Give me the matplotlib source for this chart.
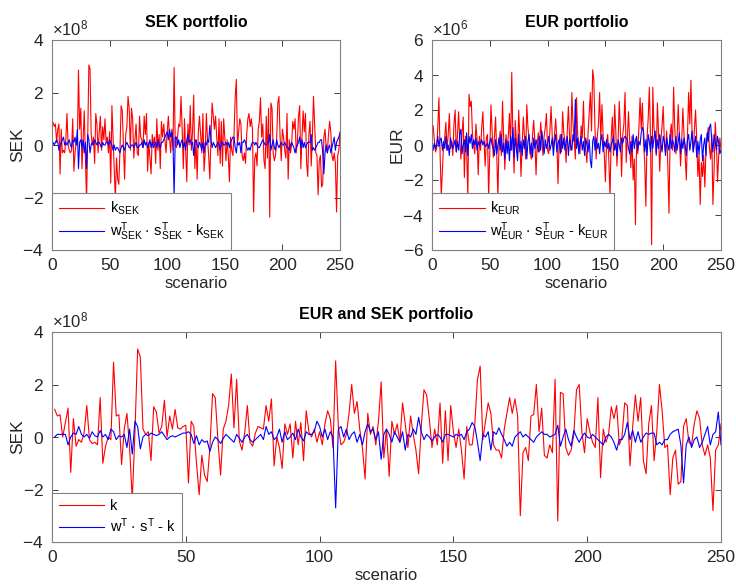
import numpy as np
import matplotlib
matplotlib.use("Agg")
import matplotlib.pyplot as plt
from matplotlib.ticker import ScalarFormatter

# k and residual per scenario, SEK portfolio (x 1e8 SEK)
sek_k = [
    0.85, 0.7, 0.8, 0.1, 0.6, 0.8, -1.1, 0.6, -0.3, -0.2,
    -0.3, 0.2, 1.2, 0.0, -0.2, -0.3, -0.2, 1.0, -1.0, -0.3,
    0.1, 0.0, 2.85, 0.6, 1.4, -0.9, 0.2, 1.3, -0.5, -2.1,
    0.3, 3.05, 2.9, 0.4, 0.0, 0.3, -0.7, 1.2, 0.8, -0.3,
    0.5, 1.1, -0.2, 0.7, 0.2, 1.0, 0.1, 0.3, -0.3, 0.5,
    -1.45, 1.5, 0.3, -0.9, -2.1, -0.5, -1.3, -1.5, -0.2, 1.5,
    1.3, 0.0, -1.3, 0.4, 0.7, 1.85, 1.4, -0.2, 1.4, 1.0,
    -0.5, 0.2, 0.8, -0.3, -0.4, 1.1, 0.3, 0.2, -0.1, 1.1,
    0.4, 1.2, -1.0, 0.1, -0.5, -1.1, 0.4, 0.0, 0.3, -0.7,
    1.0, -0.2, 0.4, -0.9, 0.9, 0.3, 0.8, 0.2, -0.3, 0.5,
    1.1, 0.3, -0.3, 0.6, -0.2, 2.95, 0.0, -0.1, 0.3, 0.8,
    0.7, 1.85, 0.6, -0.9, 1.0, -0.2, -1.4, 0.8, 0.0, 1.5,
    -0.2, 0.5, 1.9, -0.9, 0.2, -1.3, 0.5, 1.1, 0.4, -0.3,
    1.2, -1.0, -0.3, 1.2, 0.2, -0.4, -1.3, 0.3, 1.6, 1.1,
    0.6, 1.1, 0.3, -0.4, 1.0, -0.7, 0.9, -0.8, 1.0, 0.3,
    -0.6, 0.2, -0.4, -1.4, 0.3, -0.2, -0.4, 0.4, 1.8, 2.5,
    0.0, 0.5, 1.0, 0.8, -0.4, -0.6, -0.3, -0.7, 0.4, 1.0,
    1.2, 0.7, 1.0, 0.6, -2.55, -0.5, -0.3, -0.8, 0.6, 0.9,
    1.8, 0.3, 0.8, -0.6, -0.9, 1.1, -0.5, 1.4, -2.75, 1.6,
    1.4, -0.3, -0.6, -0.4, 0.2, 1.6, 1.85, 0.3, -0.6, 0.6,
    0.3, -0.2, -0.5, 1.2, -1.3, 0.2, -0.3, 0.0, 0.9, 0.6,
    1.0, -0.3, 0.1, 1.1, 1.5, -0.9, 0.3, 1.3, 0.5, 1.2,
    -0.7, -1.2, 0.4, 0.9, -0.8, 0.3, 1.85, 0.8, -0.3, -0.4,
    -1.9, -0.6, -0.4, -1.6, -1.5, 0.3, 0.6, -0.1, -0.3, 0.4,
    0.9, 0.5, -0.4, -0.6, -0.3, -0.7, -2.55, -0.4, -0.2, 0.5,
]
sek_resid = [
    0.1, 0.0, 0.1, 0.2, 0.1, -0.2, 0.0, 0.1, 0.2, 0.3,
    0.0, 0.1, 0.0, 0.1, 0.2, 0.0, -0.1, 0.2, 0.1, 0.3,
    0.0, 0.6, -0.9, 0.1, 0.2, -0.1, 0.2, -0.3, 0.1, -0.9,
    0.4, 0.2, -0.3, 0.0, 0.1, 0.0, 0.2, 0.1, 0.0, 0.1,
    0.1, 0.0, -0.1, 0.1, 0.0, 0.0, 0.1, 0.1, 0.0, 0.2,
    0.1, 0.0, -0.2, 0.0, -0.2, -0.1, -0.1, -0.2, -0.3, -0.1,
    0.0, -0.1, -0.2, 0.0, 0.1, 0.0, -0.1, -0.1, 0.0, 0.0,
    -0.1, 0.0, 0.1, -0.1, -0.1, 0.0, 0.0, 0.1, -0.1, 0.2,
    0.0, 0.1, -0.1, 0.0, 0.2, -0.1, 0.1, -0.1, 0.0, 0.1,
    -0.1, 0.2, 0.0, -0.1, 0.1, 0.1, 0.2, 0.3, 0.4, 0.5,
    0.2, 0.6, 0.3, 0.5, 0.2, -1.95, 0.3, 0.3, 0.0, 0.2,
    -0.1, 0.1, 0.2, -0.1, 0.1, -0.2, 0.2, 0.4, 0.1, 0.2,
    0.0, 0.1, -0.4, 0.1, 0.2, 0.0, -0.1, 0.1, 0.0, -0.2,
    0.1, -0.3, 0.1, 0.0, 0.2, 0.1, 0.75, 0.2, -0.1, 0.1,
    0.0, -0.1, 0.0, 0.1, 0.0, -0.2, 0.1, 0.1, 0.0, 0.0,
    0.1, 0.0, 0.1, -0.1, 0.1, 0.2, 0.3, 0.3, -0.1, -0.3,
    0.1, 0.0, 0.1, -0.3, 0.1, 0.1, 0.2, 0.1, -0.1, -0.2,
    -0.1, -0.2, 0.0, 0.1, 0.1, 0.0, 0.1, 0.0, -0.1, -0.1,
    0.0, 0.1, 0.2, 0.1, 0.0, 0.0, 0.1, 0.1, 0.4, -0.2,
    0.0, 0.2, -0.1, -0.2, 0.2, 0.0, -0.1, 0.0, 0.1, 0.0,
    0.0, 0.1, 0.0, -0.1, -0.1, -0.2, 0.0, 0.1, 0.0, -0.1,
    -0.3, -0.1, 0.0, 0.1, 0.3, -0.1, 0.2, -0.1, 0.1, -0.1,
    0.0, 0.1, 0.1, 0.1, 0.4, -0.2, -0.1, -0.2, -0.1, 0.0,
    0.1, 0.1, 0.2, 0.2, -0.3, -1.1, -0.3, 0.0, -0.3, -0.1,
    0.0, -0.3, -0.1, 0.1, 0.3, -0.2, 0.1, 0.2, 0.3, 0.45,
]

# EUR portfolio (x 1e6 EUR)
eur_k = [
    1.1, 0.3, -0.4, -0.2, 1.0, 2.7, -0.5, -2.9, -1.4, 0.0,
    0.4, 1.3, -0.3, 0.6, 1.8, -0.2, 0.2, -0.6, 1.2, 2.0,
    -0.4, 0.5, 1.9, 0.3, -0.8, 0.7, 1.6, -1.85, 0.5, -0.3,
    -3.0, 2.9, 2.2, 2.5, 0.6, 0.0, -0.5, 1.2, 0.3, -1.7,
    0.5, -0.3, 1.0, 1.9, 0.2, -1.2, 0.4, 0.6, -3.0, -0.4,
    2.3, 0.8, -0.7, 0.4, 1.6, -0.5, -3.0, 0.2, 0.8, -0.6,
    2.5, 0.4, -1.4, 0.6, -0.2, 0.5, 1.8, -0.3, 4.15, 0.3,
    -1.6, 1.4, 0.2, -0.6, 2.0, 0.4, -1.8, 0.1, 1.6, 0.5,
    -0.8, 2.3, 1.0, 0.3, -0.5, -0.8, 0.6, 1.4, 0.2, -1.7,
    0.1, 0.7, -0.4, 1.3, 0.4, -0.6, 0.5, 1.0, 1.8, -0.3,
    -0.5, 0.8, 2.2, 0.5, -0.2, 0.6, 1.5, 0.3, -2.2, 0.2,
    0.6, -0.4, 1.9, 0.7, 0.2, -1.0, 0.8, 2.2, 0.5, -0.3,
    3.0, 1.2, 0.3, -0.8, 2.7, 0.6, 0.0, -0.5, 1.1, 0.4,
    2.5, 0.2, -0.3, -1.0, 0.7, 1.8, 3.0, 0.8, 4.3, 3.7,
    0.9, -0.8, 0.5, 1.2, 3.0, 0.3, 2.3, 0.6, -0.5, -2.1,
    0.1, 0.6, -0.9, -3.0, 0.4, 1.6, -0.6, 2.3, 0.8, -1.2,
    0.3, 2.5, 0.7, -1.8, 0.6, 1.2, 3.0, -1.0, 0.4, 1.9,
    0.2, -1.3, 0.5, -2.0, -0.8, -4.55, 0.3, -0.5, 1.0, 2.7,
    0.9, 2.4, 0.2, -1.0, -3.5, 0.4, 1.5, 3.3, 0.5, -5.7,
    3.3, 1.0, 0.5, -0.6, 2.4, 0.6, -1.5, 0.3, 1.1, 2.2,
    0.2, -0.4, 0.8, -1.2, -3.9, 0.6, 1.2, -0.3, 3.3, 1.0,
    -0.5, 0.4, 2.3, 0.5, -1.2, 0.2, 2.1, 0.6, -0.6, -2.0,
    0.4, 3.0, 1.2, 3.7, 0.5, -0.4, 0.9, 2.0, 0.3, -1.8,
    -0.5, -3.4, -1.0, -1.8, -0.6, -2.4, -0.3, 0.5, 1.0, -0.2,
    -0.8, 0.6, -3.4, -1.5, 1.3, 0.2, -2.1, -0.6, 0.4, -0.3,
]
eur_resid = [
    -0.3, 0.1, -0.2, 0.0, 0.5, -0.1, 0.3, 0.4, -0.3, 0.2,
    -0.2, 0.5, -0.3, 0.0, -0.6, 0.4, 0.1, -0.2, 0.0, 0.3,
    -0.4, 0.2, -0.3, 0.6, 0.9, -0.5, 0.0, 0.3, -0.4, 0.7,
    -0.6, 0.5, 0.1, 0.6, -0.2, 0.3, 0.0, 0.4, -0.3, 0.2,
    0.0, 0.1, 0.3, 0.0, 0.2, -0.1, 0.0, 0.1, -0.2, 0.2,
    0.4, 0.0, -0.2, -0.6, 0.3, -0.5, 0.0, 0.4, -0.3, 0.6,
    -0.4, 0.1, -0.8, 0.3, -0.5, 0.2, -0.9, 0.5, -0.3, 1.0,
    -0.7, 0.4, -0.2, -0.9, 0.6, -0.4, 0.2, -0.6, 0.3, -0.2,
    0.5, -0.8, 0.2, 0.6, -0.5, 0.1, -0.7, 0.4, -0.2, 0.3,
    0.0, -0.4, 0.5, -0.3, 0.8, 0.2, -0.5, 0.3, -0.2, 0.1,
    0.5, -0.3, 0.0, 0.4, -0.6, 0.2, 0.6, -0.4, 0.1, 0.3,
    -0.5, 0.6, -0.2, 0.4, -0.3, 0.2, 0.5, -0.6, 0.3, 0.0,
    -0.3, 0.6, 0.2, 2.6, -0.2, 0.4, -0.5, 0.1, 0.5, -0.3,
    0.2, -0.6, 0.4, 0.0, -0.4, 0.3, -0.9, -1.3, 0.2, 0.5,
    -0.3, 0.4, -0.2, 0.1, -0.5, 0.3, 0.6, -0.4, 0.2, -0.1,
    0.3, -0.2, 0.1, -0.4, 0.0, 0.2, 0.5, -0.3, 0.1, -0.6,
    0.3, 0.0, -0.4, 0.4, 0.1, 0.4, 0.5, 0.4, 0.3, -0.2,
    -0.5, 0.2, -0.4, 0.6, -0.2, 0.3, 0.5, -0.3, 0.2, 0.0,
    0.7, 1.0, 0.8, -0.4, 0.3, -0.6, 0.6, 0.2, -0.4, 0.5,
    -0.2, 0.4, 0.8, -0.5, 0.3, -0.2, 0.6, 0.1, -0.4, 0.5,
    0.2, -0.6, 0.4, 0.0, -0.3, 0.6, -0.2, 0.3, 0.1, -0.4,
    0.5, -0.3, 0.2, 0.7, -0.5, 0.3, -0.2, 0.4, 0.0, -0.6,
    0.3, 0.6, -0.3, 0.2, 0.8, -0.4, 0.1, 0.5, -0.7, 0.2,
    -0.5, 0.3, 0.6, -0.9, 0.0, 0.4, -0.6, 0.7, 0.2, 1.0,
    1.2, 0.3, -0.4, 0.6, 0.2, -0.3, 0.5, 0.1, -0.5, -0.3,
]

# combined EUR and SEK portfolio (x 1e8 SEK)
tot_k = [
    1.05, 0.8, 0.85, 0.0, 0.55, 1.1, -1.35, 0.7, -0.35, -0.1,
    -0.2, 0.15, 1.2, -0.1, -0.25, -0.2, -0.3, 1.5, -1.0, -0.35,
    0.0, -0.1, 2.85, 0.8, 0.85, -1.05, 0.3, 0.9, -0.4, -2.4,
    0.2, 3.35, 3.05, 0.3, 0.1, 0.2, -0.9, 1.15, 0.95, 0.15,
    0.4, 1.4, 0.0, 0.8, 0.3, 1.05, 0.35, 0.3, 0.4, 0.45,
    -1.75, 0.6, 0.4, -1.0, -2.2, -0.7, -1.45, -1.7, -0.4, 1.65,
    1.5, -0.1, -1.45, 0.3, 0.6, 1.2, 2.4, 0.35, 2.2, -0.15,
    -0.5, 0.15, 1.2, -0.2, -0.35, 0.15, 0.4, 0.35, 0.3, 1.2,
    0.6, 1.45, -1.1, 0.0, -0.4, -1.2, 0.5, 0.1, 0.5, -0.8,
    0.6, -0.3, 0.55, -0.9, 1.0, 0.2, 0.0, 0.3, -0.2, 0.2,
    -0.3, 0.5, 1.0, 0.7, -0.4, 2.9, 0.4, -0.3, -0.2, 0.1,
    0.9, 2.0, 0.9, 1.35, 0.3, -0.4, -1.6, 0.9, 0.1, 0.4,
    -0.3, 0.6, 2.1, -0.8, 0.3, -1.5, 0.6, 0.1, 0.5, -0.2,
    1.3, 0.5, -0.4, 0.8, 0.1, -0.5, -1.4, 0.4, 1.8, 1.6,
    0.7, -0.4, 0.3, -0.3, 1.3, -1.0, 1.0, -0.9, 1.2, 0.2,
    -0.4, 0.3, -0.5, -1.6, 0.4, -0.3, -0.3, 0.5, 2.2, 2.7,
    -0.1, 0.6, 1.3, 0.9, -0.3, -0.5, -0.5, -0.8, 0.3, 0.9,
    1.5, 0.9, 1.45, 0.8, -3.0, -0.6, -0.4, -0.9, 0.8, 0.85,
    2.0, 0.2, 1.1, -0.7, -0.8, -0.3, -0.6, 2.2, -3.2, 1.7,
    1.65, -0.4, -0.7, -0.5, 0.1, 1.8, 2.0, 0.2, -0.6, 0.7,
    0.2, -0.2, -0.4, 1.5, -1.55, 0.3, -0.2, 0.1, 1.15, 0.7,
    1.2, -0.3, 0.0, 1.3, 1.2, -1.1, 0.4, 1.6, 0.6, 1.5,
    -0.9, -1.4, 0.5, 1.2, -0.9, 0.2, 2.0, 1.0, -0.4, -0.3,
    -2.2, -0.8, -0.5, -1.8, -1.7, 0.4, 0.7, -0.2, -0.3, 0.5,
    1.0, 0.7, -0.3, -0.7, -0.3, -0.8, -2.8, -0.5, -0.3, 0.5,
]
tot_resid = [
    0.0, 0.1, 0.1, 0.1, 0.1, -0.3, 0.0, 0.15, 0.1, 0.4,
    0.1, 0.0, 0.1, -0.05, 0.2, 0.05, 0.0, 0.25, 0.0, 0.1,
    -0.1, 0.3, 0.2, -0.1, 0.05, 0.0, 0.1, -0.4, 0.3, -0.65,
    0.6, 0.4, -0.45, 0.0, 0.1, 0.05, 0.15, 0.1, 0.05, 0.1,
    0.2, 0.05, -0.1, 0.0, 0.05, 0.0, 0.05, 0.1, 0.15, 0.15,
    0.2, 0.1, -0.25, 0.05, -0.3, -0.1, -0.2, -0.15, -0.55, -0.2,
    0.0, -0.1, -0.25, -0.05, 0.1, 0.0, -0.1, -0.2, 0.1, -0.05,
    -0.2, 0.0, 0.1, -0.1, -0.2, -0.1, 0.0, 0.1, -0.1, 0.4,
    0.1, 0.2, -0.1, 0.0, 0.3, -0.2, 0.2, -0.1, 0.0, 0.15,
    -0.1, 0.3, 0.0, -0.15, 0.2, 0.1, 0.1, 0.2, 0.6, 0.4,
    0.0, 0.3, -0.1, 0.2, 0.0, -2.7, 0.3, 0.4, 0.0, 0.3,
    -0.1, 0.1, 0.2, -0.2, 0.1, -0.3, 0.2, 0.5, 0.2, 0.3,
    -0.1, 0.2, -0.85, 0.1, 0.3, 0.1, -0.2, 0.2, 0.0, -0.2,
    0.2, -0.5, 0.1, 0.0, 0.3, 0.1, 0.75, 0.2, -0.1, 0.1,
    0.0, -0.15, 0.0, 0.1, 0.0, -0.2, 0.1, 0.1, 0.05, 0.0,
    0.1, 0.05, 0.1, -0.1, 0.2, 0.3, 0.55, 0.4, -0.2, -0.9,
    0.1, 0.0, 0.2, -0.5, 0.2, 0.1, 0.35, 0.1, -0.1, -0.35,
    -0.2, -0.35, 0.0, 0.1, 0.2, 0.0, 0.1, 0.0, -0.1, -0.2,
    0.0, 0.1, 0.2, 0.1, 0.1, 0.0, 0.05, 0.1, 0.45, -0.35,
    0.0, 0.3, -0.1, -0.35, 0.25, 0.0, -0.2, 0.0, 0.15, 0.0,
    -0.05, 0.1, 0.0, -0.1, -0.2, -0.3, 0.0, 0.1, 0.0, -0.2,
    -0.5, -0.1, -0.1, 0.1, 0.55, -0.1, 0.25, -0.2, 0.2, -0.2,
    0.0, 0.15, 0.1, 0.15, 0.15, -0.3, -0.2, -0.3, -0.1, -0.1,
    0.1, 0.2, 0.25, 0.3, -0.3, -1.75, -0.3, 0.0, -0.4, -0.1,
    0.0, -0.4, -0.2, 0.1, 0.4, -0.3, 0.1, 0.2, 0.95, -0.3,
]

x_ticks = [0, 50, 100, 150, 200, 250]

plt.rcParams['font.family'] = ['Liberation Sans', 'DejaVu Sans']
plt.rcParams['mathtext.fontset'] = 'custom'
plt.rcParams['mathtext.rm'] = 'Liberation Sans'
plt.rcParams['axes.unicode_minus'] = False

TXT = '#262626'
EDGE = '#808080'


def style_axes(ax, ylim, yticks, scale, title, ylabel, ylab_x):
    ax.set_xlim(0, 250)
    ax.set_ylim(ylim[0] * scale, ylim[1] * scale)
    ax.set_xticks(x_ticks)
    ax.set_yticks([t * scale for t in yticks])
    fmt = ScalarFormatter(useMathText=True)
    fmt.set_powerlimits((0, 0))
    ax.yaxis.set_major_formatter(fmt)
    ax.yaxis.get_offset_text().set_fontsize(12)
    ax.yaxis.get_offset_text().set_color('#707070')
    ax.tick_params(direction='in', top=True, right=True, length=4,
                   width=0.7, labelsize=12.5, colors='#404040',
                   labelcolor=TXT, pad=6)
    for s in ax.spines.values():
        s.set_color(EDGE)
        s.set_linewidth(0.8)
    ax.set_title(title, fontsize=11.5, fontweight='bold', color='black', pad=9)
    ax.set_ylabel(ylabel, fontsize=12.5, color=TXT)
    ax.yaxis.set_label_coords(ylab_x, 0.5)
    ax.set_xlabel('scenario', fontsize=12, color=TXT, labelpad=2)


def draw(ax, k, resid, scale, labels):
    ax.plot(np.arange(1, len(k) + 1), np.array(k) * scale, color='#ff0000',
            lw=0.8, label=labels[0])
    ax.plot(np.arange(1, len(resid) + 1), np.array(resid) * scale,
            color='#0000ff', lw=0.8, label=labels[1])
    leg = ax.legend(loc='lower left', borderaxespad=0, fancybox=False,
                    framealpha=1, edgecolor=EDGE, fontsize=10.5,
                    handlelength=3.15, handletextpad=0.35, borderpad=0.45,
                    labelspacing=0.25)
    leg.get_frame().set_linewidth(0.8)


fig = plt.figure(figsize=(7.36, 5.85), dpi=100)
ax1 = fig.add_axes([52 / 736, 1 - 250 / 585, 288 / 736, 210 / 585])
ax2 = fig.add_axes([432 / 736, 1 - 250 / 585, 289 / 736, 210 / 585])
ax3 = fig.add_axes([52 / 736, 1 - 542 / 585, 669 / 736, 210 / 585])

draw(ax1, sek_k, sek_resid, 1e8,
     [r'$\mathregular{k_{SEK}}$',
      r'$\mathregular{w^T_{SEK}\cdot\,s^T_{SEK}}$ - $\mathregular{k_{SEK}}$'])
style_axes(ax1, (-4, 4), [-4, -2, 0, 2, 4], 1e8, 'SEK portfolio', 'SEK',
           -0.094)

draw(ax2, eur_k, eur_resid, 1e6,
     [r'$\mathregular{k_{EUR}}$',
      r'$\mathregular{w^T_{EUR}\cdot\,s^T_{EUR}}$ - $\mathregular{k_{EUR}}$'])
style_axes(ax2, (-6, 6), [-6, -4, -2, 0, 2, 4, 6], 1e6, 'EUR portfolio',
           'EUR', -0.093)

draw(ax3, tot_k, tot_resid, 1e8,
     ['k', r'$\mathregular{w^T\cdot\,s^T}$ - k'])
style_axes(ax3, (-4, 4), [-4, -2, 0, 2, 4], 1e8, 'EUR and SEK portfolio',
           'SEK', -0.040)

fig.savefig('out.png', dpi=100)
